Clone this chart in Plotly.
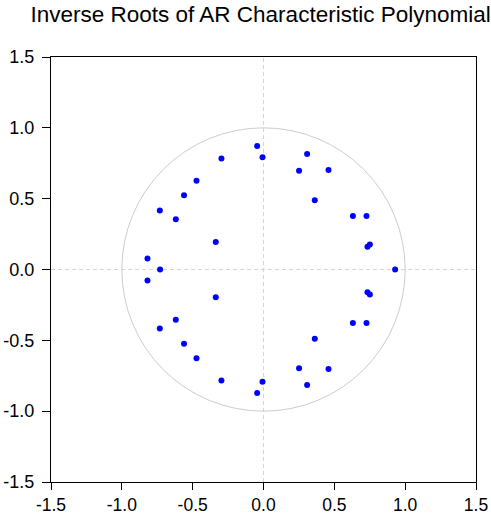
import plotly.graph_objects as go

# Inverse roots (conjugate pairs: x, |imag|) plus real roots
pair_re = [-0.045, -0.007, -0.297, -0.473, -0.561, -0.732, -0.619, -0.337, -0.819,
           0.308, 0.251, 0.459, 0.362, 0.631, 0.727, 0.734, 0.751]
pair_im = [0.872, 0.792, 0.783, 0.627, 0.524, 0.416, 0.355, 0.195, 0.078,
           0.815, 0.697, 0.703, 0.489, 0.378, 0.378, 0.160, 0.177]
real_roots = [-0.730, 0.929]

tick_vals = [-1.5, -1.0, -0.5, 0.0, 0.5, 1.0, 1.5]
tick_text = ["-1.5", "-1.0", "-0.5", "0.0", "0.5", "1.0", "1.5"]

xs = pair_re + pair_re + real_roots
ys = pair_im + [-v for v in pair_im] + [0.0 for _ in real_roots]

FONT = "Arial, Liberation Sans, sans-serif"

fig = go.Figure()
fig.add_trace(go.Scatter(x=xs, y=ys, mode="markers",
                         marker=dict(color="#0000ff", size=6, line=dict(width=0)),
                         showlegend=False, hoverinfo="x+y"))

shapes = [
    dict(type="circle", xref="x", yref="y", x0=-1, x1=1, y0=-1, y1=1,
         line=dict(color="#cccccc", width=1), layer="below"),
    dict(type="line", xref="x", yref="y", x0=0, x1=0, y0=-1.5, y1=1.5,
         line=dict(color="#d4d4d4", width=1, dash="4px,3px"), layer="below"),
    dict(type="line", xref="x", yref="y", x0=-1.5, x1=1.5, y0=0, y1=0,
         line=dict(color="#d4d4d4", width=1, dash="4px,3px"), layer="below"),
]

axis_common = dict(range=[-1.5, 1.5], tickvals=tick_vals, ticktext=tick_text,
                   showgrid=False, zeroline=False, showline=True, mirror=True,
                   linecolor="black", linewidth=1, ticks="outside",
                   tickcolor="black", automargin=False)

fig.update_layout(
    width=491, height=515,
    margin=dict(l=51, r=15, t=57, b=33),
    paper_bgcolor="white", plot_bgcolor="white",
    xaxis=dict(**axis_common, ticklen=7, ticklabelstandoff=0,
               tickfont=dict(family=FONT, size=17.5, color="black")),
    yaxis=dict(**axis_common, ticklen=8, ticklabelstandoff=4,
               tickfont=dict(family=FONT, size=18, color="black")),
    shapes=shapes,
    title=dict(text="Inverse Roots of AR Characteristic Polynomial",
               xref="container", yref="container", x=30.5/491, xanchor="left",
               y=1 - 14.3/515, yanchor="middle",
               font=dict(family=FONT, size=22.5, color="black")),
)

fig.write_html("out.html")
